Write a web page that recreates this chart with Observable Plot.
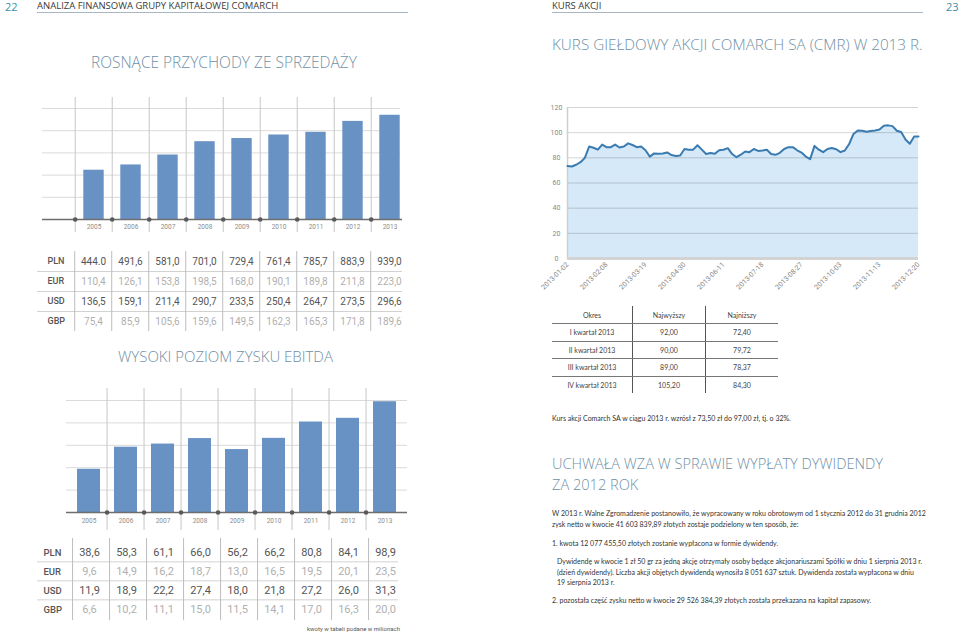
<!DOCTYPE html>
<html><head><meta charset="utf-8">
<script src="https://cdn.jsdelivr.net/npm/d3@7"></script>
<script src="https://cdn.jsdelivr.net/npm/@observablehq/plot@0.6"></script>
<style>
body{margin:0;background:#fff;}
#page{position:relative;width:960px;height:634px;overflow:hidden;font-family:"Open Sans",sans-serif;}
.abs{position:absolute;white-space:nowrap;line-height:1.2;}
.title{font-weight:300;color:#7090a5;font-size:16px;}
.hdr{font-size:9.5px;color:#3a3a3a;}
.pg{font-size:11px;color:#3b8fa3;}
.hline{position:absolute;height:0;border-top:1.5px solid #a9b7c2;}
.body{font-family:Lato,sans-serif;font-size:7px;color:#333;}
.plotbox{position:absolute;}
.plotbox svg{overflow:visible;}
#qt{position:absolute;left:552px;top:306px;border-collapse:collapse;font-family:Lato,sans-serif;font-size:7px;color:#444;}
#qt td{text-align:center;padding:0;height:16.5px;}
#qt tr:first-child td{height:17px;}
#qt tr:not(:last-child) td{border-bottom:1px solid #777;}
#qt td:not(:last-child){border-right:1px solid #555;}
</style></head>
<body>
<div id="page">
  <div class="abs pg" style="left:5px;top:0px;">22</div>
  <div class="abs hdr" style="left:37px;top:0px;">ANALIZA FINANSOWA GRUPY KAPITAŁOWEJ COMARCH</div>
  <div class="hline" style="left:37px;top:12px;width:371px;"></div>
  <div class="abs hdr" style="left:552px;top:0px;">KURS AKCJI</div>
  <div class="hline" style="left:552px;top:12px;width:371px;"></div>
  <div class="abs pg" style="left:946px;top:0px;">23</div>

  <div class="abs title" data-w="266" data-cy="62" style="left:91px;">ROSNĄCE PRZYCHODY ZE SPRZEDAŻY</div>
  <div class="abs title" data-w="371" data-cy="44" style="left:552px;">KURS GIEŁDOWY AKCJI COMARCH SA (CMR) W 2013 R.</div>
  <div class="abs title" data-w="215" data-cy="357" style="left:118px;">WYSOKI POZIOM ZYSKU EBITDA</div>
  <div class="abs title" data-w="331" data-cy="464" style="left:552px;">UCHWAŁA WZA W SPRAWIE WYPŁATY DYWIDENDY</div>
  <div class="abs title" data-cy="485" style="left:552px;">ZA 2012 ROK</div>

  <div class="plotbox" id="chart1" style="left:0;top:95px;"></div>
  <div class="plotbox" id="table1" style="left:0;top:245px;"></div>
  <div class="plotbox" id="chart2" style="left:0;top:385px;"></div>
  <div class="plotbox" id="table2" style="left:0;top:533px;"></div>
  <div class="abs" style="left:307px;top:625px;font-family:Roboto,sans-serif;font-size:6px;color:#555;">kwoty w tabeli podane w milionach</div>

  <div class="plotbox" id="chart3" style="left:530px;top:95px;"></div>
  <table id="qt"></table>

  <div class="abs body" style="left:552px;top:414px;">Kurs akcji Comarch SA w ciągu 2013 r. wzrósł z 73,50 zł do 97,00 zł, tj. o 32%.</div>
  <div class="abs body" style="left:552px;top:509px;">W 2013 r. Walne Zgromadzenie postanowiło, że wypracowany w roku obrotowym od 1 stycznia 2012 do 31 grudnia 2012</div>
  <div class="abs body" style="left:552px;top:520px;">zysk netto w kwocie 41 603 839,89 złotych zostaje podzielony w ten sposób, że:</div>
  <div class="abs body" style="left:552px;top:539px;">1. kwota 12 077 455,50 złotych zostanie wypłacona w formie dywidendy.</div>
  <div class="abs body" style="left:557px;top:557px;">Dywidendę w kwocie 1 zł 50 gr za jedną akcję otrzymały osoby będące akcjonariuszami Spółki w dniu 1 sierpnia 2013 r.</div>
  <div class="abs body" style="left:557px;top:568px;">(dzień dywidendy). Liczba akcji objętych dywidendą wynosiła 8 051 637 sztuk. Dywidenda została wypłacona w dniu</div>
  <div class="abs body" style="left:557px;top:578px;">19 sierpnia 2013 r.</div>
  <div class="abs body" style="left:552px;top:596px;">2. pozostała część zysku netto w kwocie 29 526 384,39 złotych została przekazana na kapitał zapasowy.</div>
</div>
<script>
// ---------- DATA ----------
const years = ["2005","2006","2007","2008","2009","2010","2011","2012","2013"];
const currencies = ["PLN","EUR","USD","GBP"];
const revenuePLN = ["444.0","491,6","581,0","701,0","729,4","761,4","785,7","883,9","939,0"];
const revenueEUR = ["110,4","126,1","153,8","198,5","168,0","190,1","189,8","211,8","223,0"];
const revenueUSD = ["136,5","159,1","211,4","290,7","233,5","250,4","264,7","273,5","296,6"];
const revenueGBP = ["75,4","85,9","105,6","159,6","149,5","162,3","165,3","171,8","189,6"];
const revenueGrid = [200, 400, 600, 800, 1000];

const ebitdaPLN = ["38,6","58,3","61,1","66,0","56,2","66,2","80,8","84,1","98,9"];
const ebitdaEUR = ["9,6","14,9","16,2","18,7","13,0","16,5","19,5","20,1","23,5"];
const ebitdaUSD = ["11,9","18,9","22,2","27,4","18,0","21,8","27,2","26,0","31,3"];
const ebitdaGBP = ["6,6","10,2","11,1","15,0","11,5","14,1","17,0","16,3","20,0"];
const ebitdaGrid = [20, 40, 60, 80, 100];

// CMR closing price, read every 3rd trading day of 2013
const closeEvery3Days = [73.5,73.1,74.5,76.5,80,89,88,86.5,90.5,88.5,88.5,90.5,88.2,89,91.5,90.2,88.5,89,86,81,
  83.5,83.2,83.5,84.3,82.2,81.5,81.8,87,86.5,86.5,90,86.5,83,83.8,83.2,86,86.4,87.7,83,80.5,
  82.5,85,84.5,87,85.5,85.8,86.4,83,82.4,84,87,88.5,88.5,86,84.2,81,79,89.5,86.5,84.5,
  87,87.8,86.8,84.5,85.8,91,99,101.8,101.6,100.8,101.3,101.8,102.5,105.5,105.8,105.2,101.5,100.5,94.5,91.2,
  97,97];
const tickDates = ["2013-01-02","2013-02-08","2013-03-19","2013-04-30","2013-06-11","2013-07-18","2013-08-27","2013-10-03","2013-11-13","2013-12-20"];
const priceTicks = [0, 20, 40, 60, 80, 100, 120];

const quarters = ["I kwartał 2013","II kwartał 2013","III kwartał 2013","IV kwartał 2013"];
const quarterHigh = ["92,00","90,00","89,00","105,20"];
const quarterLow = ["72,40","79,72","78,37","84,30"];
const tableHeader = ["Okres","Najwyższy","Najniższy"];

// ---------- HELPERS ----------
const toNum = s => +s.replace(",", ".");
const BAR = "#6892c4";
const DARK = "#555", LIGHT = "#b0b0b0";
const baseStyle = {background: "transparent", fontFamily: "Roboto, sans-serif", overflow: "visible"};

function cells(rows) {
  const out = [];
  currencies.forEach((cur, r) => rows[r].forEach((text, i) => out.push({cur, year: years[i], text, light: r % 2 === 1})));
  return out;
}

// ---------- REVENUE CHART ----------
const w1L = 72, w1R = 410, bw1 = (w1R - w1L) / years.length;
const revData = years.map((year, i) => ({year, value: toNum(revenuePLN[i])}));
document.getElementById("chart1").append(Plot.plot({
  width: 420, height: 140, marginLeft: w1L, marginRight: 420 - w1R, marginTop: 13, marginBottom: 16,
  style: baseStyle,
  x: {domain: years, paddingInner: 0, paddingOuter: 0, axis: null},
  y: {domain: [0, 1000], axis: null},
  marks: [
    Plot.ruleY(revenueGrid, {stroke: "#dadada", insetLeft: -30, insetRight: 10}),
    Plot.ruleX(years, {x: d => d, dx: -bw1 / 2, stroke: "#c6c6c6", insetTop: -11, insetBottom: -13}),
    Plot.barY(revData, {x: "year", y: "value", fill: BAR, insetLeft: 8.3, insetRight: 8.3}),
    Plot.ruleY([0], {stroke: "#6e6e6e", strokeWidth: 1.5, insetLeft: -30, insetRight: 8}),
    Plot.dot(years, {x: d => d, frameAnchor: "bottom", dx: -bw1 / 2, r: 2.3, fill: "#595959"}),
    Plot.axisX({tickSize: 0, tickPadding: 5, fontSize: 6.5, color: "#8c8c8c", label: null})
  ]
}));

document.getElementById("table1").append(Plot.plot({
  width: 420, height: 95, marginLeft: w1L, marginRight: 420 - w1R, marginTop: 6, marginBottom: 9,
  style: baseStyle,
  x: {domain: years, paddingInner: 0, paddingOuter: 0, axis: null},
  y: {domain: currencies, paddingInner: 0, paddingOuter: 0, axis: null},
  marks: [
    Plot.ruleY(currencies.slice(1), {y: d => d, dy: -10, stroke: "#d2d2d2", insetLeft: -35, insetRight: 8}),
    Plot.ruleX(years, {x: d => d, dx: -bw1 / 2, stroke: "#bdbdbd"}),
    Plot.text(currencies, {y: d => d, text: d => d, frameAnchor: "left", dx: -25, textAnchor: "start", fontSize: 9, fontWeight: 500, fill: "#555"}),
    Plot.text(cells([revenuePLN, revenueEUR, revenueUSD, revenueGBP]).filter(d => !d.light), {x: "year", y: "cur", text: "text", fontSize: 10, fill: DARK}),
    Plot.text(cells([revenuePLN, revenueEUR, revenueUSD, revenueGBP]).filter(d => d.light), {x: "year", y: "cur", text: "text", fontSize: 10, fill: LIGHT})
  ]
}));

// ---------- EBITDA CHART ----------
const w2L = 66, w2R = 407, bw2 = (w2R - w2L) / years.length;
const ebitdaData = years.map((year, i) => ({year, value: toNum(ebitdaPLN[i])}));
document.getElementById("chart2").append(Plot.plot({
  width: 420, height: 150, marginLeft: w2L, marginRight: 420 - w2R, marginTop: 15, marginBottom: 23,
  style: baseStyle,
  x: {domain: years, paddingInner: 0, paddingOuter: 0, axis: null},
  y: {domain: [0, 100], axis: null},
  marks: [
    Plot.ruleY(ebitdaGrid, {stroke: "#dadada"}),
    Plot.ruleX(years.slice(1), {x: d => d, dx: -bw2 / 2, stroke: "#c6c6c6", insetTop: -12, insetBottom: -18}),
    Plot.barY(ebitdaData, {x: "year", y: "value", fill: BAR, insetLeft: 7, insetRight: 7}),
    Plot.ruleY([0], {stroke: "#6e6e6e", strokeWidth: 1.5}),
    Plot.dot(years.slice(1), {x: d => d, frameAnchor: "bottom", dx: -bw2 / 2, r: 2.3, fill: "#595959"}),
    Plot.axisX({tickSize: 0, tickPadding: 6, fontSize: 6.5, color: "#8c8c8c", label: null})
  ]
}));

const rowH2 = 19.3;
document.getElementById("table2").append(Plot.plot({
  width: 420, height: 95, marginLeft: w2L, marginRight: 420 - w2R, marginTop: 9, marginBottom: 95 - 9 - rowH2 * 4,
  style: baseStyle,
  x: {domain: years, paddingInner: 0, paddingOuter: 0, axis: null},
  y: {domain: currencies, paddingInner: 0, paddingOuter: 0, axis: null},
  marks: [
    Plot.ruleY(currencies.slice(1), {y: d => d, dy: -rowH2 / 2, stroke: "#d2d2d2", insetLeft: -29, insetRight: 9}),
    Plot.ruleX(years, {x: d => d, dx: -bw2 / 2 + 2, stroke: "#bdbdbd", insetTop: -4, insetBottom: -1}),
    Plot.text(currencies, {y: d => d, text: d => d, frameAnchor: "left", dx: -23, textAnchor: "start", fontSize: 9.5, fontWeight: 500, fill: "#555"}),
    Plot.text(cells([ebitdaPLN, ebitdaEUR, ebitdaUSD, ebitdaGBP]).filter(d => !d.light), {x: "year", y: "cur", text: "text", fontSize: 11, fill: DARK}),
    Plot.text(cells([ebitdaPLN, ebitdaEUR, ebitdaUSD, ebitdaGBP]).filter(d => d.light), {x: "year", y: "cur", text: "text", fontSize: 11, fill: LIGHT})
  ]
}));

// ---------- SHARE PRICE CHART ----------
const SAMPLE_STEP = 3, TICK_STEP = 27;
const priceData = closeEvery3Days.map((close, i) => ({day: i * SAMPLE_STEP, close}));
const tickDays = tickDates.map((d, i) => i * TICK_STEP);
const lastDay = priceData[priceData.length - 1].day;
document.getElementById("chart3").append(Plot.plot({
  width: 400, height: 200, marginLeft: 37, marginRight: 12, marginTop: 12, marginBottom: 37,
  style: baseStyle,
  x: {domain: [0, lastDay], axis: null},
  y: {domain: [0, 120], axis: null},
  marks: [
    Plot.areaY(priceData, {x: "day", y: "close", fill: "#d6e9f8"}),
    Plot.ruleY(priceTicks.slice(1), {stroke: "#000", strokeOpacity: 0.17}),
    Plot.ruleX([0], {stroke: "#cfcfcf", strokeWidth: 1.5}),
    Plot.ruleY([0], {stroke: "#d3d3d3", strokeWidth: 3}),
    Plot.lineY(priceData, {x: "day", y: "close", stroke: "#3a7bb1", strokeWidth: 2}),
    Plot.axisY({ticks: priceTicks, tickSize: 0, tickPadding: 11, textAnchor: "middle", fontSize: 7, color: "#888", label: null}),
    Plot.axisX({ticks: tickDays, tickFormat: d => tickDates[tickDays.indexOf(d)], tickRotate: -45, tickSize: 0, tickPadding: 5, fontSize: 7, color: "#888", label: null})
  ]
}));

// ---------- QUARTER TABLE ----------
const qt = document.getElementById("qt");
const widths = [80, 72, 72];
function addRow(vals) {
  const tr = document.createElement("tr");
  vals.forEach((v, i) => { const td = document.createElement("td"); td.textContent = v; td.style.width = widths[i] + "px"; tr.append(td); });
  qt.append(tr);
}
addRow(tableHeader);
quarters.forEach((q, i) => addRow([q, quarterHigh[i], quarterLow[i]]));

// ---------- fit section titles to the page layout ----------
let titleSize = null;
document.querySelectorAll(".title").forEach(el => {
  const w = +el.dataset.w;
  if (w) {
    const fs = parseFloat(getComputedStyle(el).fontSize);
    const cur = el.getBoundingClientRect().width;
    el.style.fontSize = (fs * w / cur).toFixed(2) + "px";
  }
});
document.querySelectorAll(".title").forEach(el => {
  if (!el.dataset.w) el.style.fontSize = document.querySelectorAll(".title")[3].style.fontSize;
  const h = el.getBoundingClientRect().height;
  el.style.top = (+el.dataset.cy - h / 2).toFixed(1) + "px";
});
</script>
</body></html>
